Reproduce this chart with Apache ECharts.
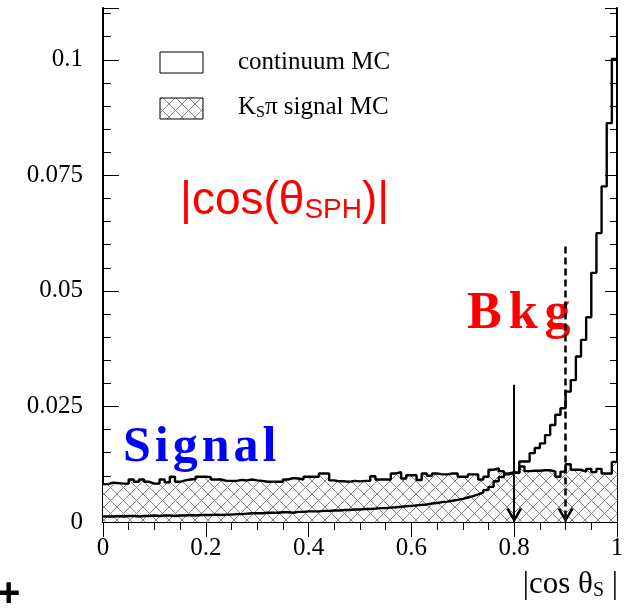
<!DOCTYPE html>
<html>
<head>
<meta charset="utf-8">
<script src="https://cdn.jsdelivr.net/npm/echarts@6/dist/echarts.min.js"></script>
<style>
html, body { margin: 0; padding: 0; background: #fff; }
#main { width: 636px; height: 610px; }
</style>
</head>
<body>
<div id="main"></div>
<script>
// |cos theta_S| distributions, 100 bins of width 0.01 from 0 to 1
var binWidth = 0.01;

var continuumMC = [
  0.0012, 0.0012, 0.0013, 0.0012, 0.0013, 0.0013, 0.0012, 0.0013, 0.0013, 0.0014,
  0.0013, 0.0014, 0.0014, 0.0013, 0.0014, 0.0014, 0.0015, 0.0014, 0.0015, 0.0015,
  0.0015, 0.0016, 0.0015, 0.0016, 0.0016, 0.0017, 0.0017, 0.0018, 0.0019, 0.0019,
  0.0019, 0.0020, 0.0020, 0.0020, 0.0021, 0.0021, 0.0020, 0.0022, 0.0022, 0.0023,
  0.0023, 0.0023, 0.0024, 0.0024, 0.0025, 0.0025, 0.0026, 0.0026, 0.0027, 0.0027,
  0.0028, 0.0028, 0.0029, 0.0030, 0.0030, 0.0031, 0.0032, 0.0033, 0.0034, 0.0035,
  0.0036, 0.0037, 0.0038, 0.0040, 0.0041, 0.0043, 0.0044, 0.0046, 0.0048, 0.0050,
  0.0053, 0.0056, 0.0060, 0.0064, 0.0069, 0.0076, 0.0088, 0.0097, 0.0103, 0.0106,
  0.0107, 0.0131, 0.0131, 0.0149, 0.0160, 0.0170, 0.0188, 0.0210, 0.0232, 0.0246,
  0.0282, 0.0307, 0.0358, 0.0394, 0.0443, 0.0539, 0.0625, 0.0726, 0.0863, 0.1002
];

var signalMC = [
  0.0082, 0.0085, 0.0084, 0.0083, 0.0083, 0.0092, 0.0087, 0.0092, 0.0087, 0.0083,
  0.0083, 0.0092, 0.0086, 0.0098, 0.0087, 0.0090, 0.0092, 0.0093, 0.0098, 0.0098,
  0.0097, 0.0092, 0.0092, 0.0089, 0.0089, 0.0089, 0.0091, 0.0090, 0.0092, 0.0090,
  0.0089, 0.0087, 0.0087, 0.0087, 0.0087, 0.0092, 0.0095, 0.0094, 0.0092, 0.0098,
  0.0098, 0.0098, 0.0105, 0.0105, 0.0090, 0.0088, 0.0088, 0.0087, 0.0089, 0.0088,
  0.0089, 0.0089, 0.0099, 0.0092, 0.0092, 0.0092, 0.0105, 0.0108, 0.0094, 0.0101,
  0.0101, 0.0091, 0.0105, 0.0100, 0.0105, 0.0103, 0.0103, 0.0105, 0.0105, 0.0098,
  0.0098, 0.0103, 0.0103, 0.0092, 0.0098, 0.0113, 0.0116, 0.0110, 0.0105, 0.0108,
  0.0106, 0.0120, 0.0110, 0.0111, 0.0111, 0.0112, 0.0112, 0.0109, 0.0098, 0.0109,
  0.0125, 0.0113, 0.0113, 0.0109, 0.0115, 0.0108, 0.0115, 0.0105, 0.0105, 0.0130
];

// cut positions (arrows) and where their lines start
var cutX = [0.8, 0.9];
var cutTop = [0.0297, 0.0596];

var yMajor = [0, 0.025, 0.05, 0.075, 0.1];
var yMax = 0.1112;

// histogram -> step points at left bin edges, closing at x=1
function toSteps(vals) {
  var pts = vals.map(function (v, i) { return [+(i * binWidth).toFixed(2), v]; });
  pts.push([1, vals[vals.length - 1]]);
  return pts;
}

// cross hatch pattern
var hatch = document.createElement('canvas');
hatch.width = 13; hatch.height = 13;
var hc = hatch.getContext('2d');
hc.fillStyle = '#fbfbfb';
hc.fillRect(0, 0, 13, 13);
hc.strokeStyle = '#858585';
hc.lineWidth = 1;
hc.beginPath();
hc.moveTo(-1, -1); hc.lineTo(14, 14);
hc.moveTo(14, -1); hc.lineTo(-1, 14);
hc.stroke();
var hatchFill = { image: hatch, repeat: 'repeat' };

var serif = '"Liberation Serif", "DejaVu Serif", serif';
var sans = '"Liberation Sans", Arial, sans-serif';
// open arrow head, apex in the middle of the box
var chevron = 'path://M0,10 L5,0 L10,10 L8.5,10.8 L5,3.6 L1.5,10.8 Z M5,-10 L5,-10';

function isMajorY(v) {
  for (var i = 0; i < yMajor.length; i++) if (Math.abs(v - yMajor[i]) < 1e-7) return true;
  return false;
}

function yAxisCfg(pos, interval, len, withLine, withLabel) {
  return {
    type: 'value', position: pos, min: 0, max: yMax, interval: interval,
    axisLine: { show: withLine, lineStyle: { color: '#000', width: 2 } },
    axisTick: { show: true, inside: true, length: len, lineStyle: { color: '#000', width: 1 } },
    splitLine: { show: false },
    axisLabel: {
      show: withLabel, color: '#000', fontFamily: serif, fontSize: 25, margin: 20,
      formatter: function (v) { return isMajorY(v) ? String(+v.toFixed(3)) : ''; }
    }
  };
}

function xAxisCfg(pos, withLabel) {
  return {
    type: 'value', position: pos, min: 0, max: 1, interval: 0.2,
    axisLine: { show: true, lineStyle: { color: '#000', width: 2 } },
    axisTick: { show: true, inside: true, length: 15, lineStyle: { color: '#000', width: 1 } },
    minorTick: { show: true, splitNumber: 4, length: 8, lineStyle: { color: '#000', width: 1 } },
    splitLine: { show: false },
    axisLabel: {
      show: withLabel, color: '#000', fontFamily: serif, fontSize: 25, margin: 14,
      formatter: function (v) { return String(+v.toFixed(1)); }
    }
  };
}

var chart = echarts.init(document.getElementById('main'));

chart.setOption({
  animation: false,
  backgroundColor: '#fff',
  grid: { left: 103, right: 19, top: 8, bottom: 88 },
  xAxis: [xAxisCfg('bottom', true), xAxisCfg('top', false)],
  yAxis: [
    yAxisCfg('left', 0.005, 8, true, true),
    yAxisCfg('left', 0.025, 16, false, false),
    yAxisCfg('right', 0.005, 7, true, false),
    yAxisCfg('right', 0.025, 12, false, false)
  ],
  series: [
    {
      name: 'Ks pi signal MC', type: 'line', step: 'end', symbol: 'none',
      data: toSteps(signalMC), z: 2,
      lineStyle: { color: '#000', width: 2.4 },
      areaStyle: { color: hatchFill, opacity: 1 }
    },
    {
      name: 'continuum MC', type: 'line', step: 'end', symbol: 'none',
      data: toSteps(continuumMC), z: 3,
      lineStyle: { color: '#000', width: 2.4 },
      markLine: {
        silent: true,
        symbol: ['none', chevron],
        symbolSize: [16, 28],
        label: { show: false },
        data: [
          [{ coord: [cutX[0], cutTop[0]], lineStyle: { color: '#000', width: 2, type: 'solid' } }, { coord: [cutX[0], 0] }],
          [{ coord: [cutX[1], cutTop[1]], lineStyle: { color: '#000', width: 2.5, type: [7, 4] } }, { coord: [cutX[1], 0] }]
        ]
      }
    }
  ],
  graphic: [
    { type: 'rect', shape: { x: 160, y: 52, width: 43, height: 21 }, style: { fill: '#fff', stroke: '#000', lineWidth: 1 } },
    { type: 'text', x: 238, y: 62, style: { text: 'continuum MC', fill: '#000', font: '25px ' + serif, verticalAlign: 'middle' } },
    { type: 'rect', shape: { x: 160, y: 98, width: 43, height: 21 }, style: { fill: hatchFill, stroke: '#000', lineWidth: 1 } },
    {
      type: 'text', x: 238, y: 107,
      style: {
        text: '{a|K}{s|S}{a|π signal MC}', verticalAlign: 'middle', fill: '#000',
        rich: {
          a: { fontFamily: serif, fontSize: 25, lineHeight: 28, verticalAlign: 'middle', fill: '#000' },
          s: { fontFamily: serif, fontSize: 16, lineHeight: 10, verticalAlign: 'bottom', fill: '#000' }
        }
      }
    },
    {
      type: 'text', x: 180, y: 201,
      style: {
        text: '{a||cos(θ}{s|SPH}{a|)|}', verticalAlign: 'middle', fill: '#ff0000',
        rich: {
          a: { fontFamily: sans, fontSize: 46, lineHeight: 47, verticalAlign: 'middle', fill: '#ff0000' },
          s: { fontFamily: sans, fontSize: 28, lineHeight: 22, verticalAlign: 'bottom', fill: '#ff0000' }
        }
      }
    },
    {
      type: 'text', x: 467, y: 315,
      style: {
        text: '{p|B}{p|k}{b|g}', verticalAlign: 'middle', fill: '#ff0000',
        rich: {
          p: { fontFamily: serif, fontWeight: 'bold', fontSize: 52, padding: [0, 7, 0, 0], fill: '#ff0000' },
          b: { fontFamily: serif, fontWeight: 'bold', fontSize: 52, fill: '#ff0000' }
        }
      }
    },
    {
      type: 'text', x: 123, y: 448,
      style: {
        text: '{p|S}{p|i}{p|g}{p|n}{p|a}{b|l}', verticalAlign: 'middle', fill: '#0000ff',
        rich: {
          p: { fontFamily: serif, fontWeight: 'bold', fontSize: 50, padding: [0, 4, 0, 0], fill: '#0000ff' },
          b: { fontFamily: serif, fontWeight: 'bold', fontSize: 50, fill: '#0000ff' }
        }
      }
    },
    {
      type: 'text', x: 618, y: 585,
      style: {
        text: '{a||cos θ}{s|S}{a| |}', align: 'right', verticalAlign: 'middle', fill: '#000',
        rich: {
          a: { fontFamily: serif, fontSize: 31, lineHeight: 32, verticalAlign: 'middle', fill: '#000' },
          s: { fontFamily: serif, fontSize: 20, lineHeight: 12, verticalAlign: 'bottom', fill: '#000' }
        }
      }
    },
    { type: 'text', x: -3, y: 595, style: { text: '+', fill: '#000', font: 'bold 40px ' + sans, verticalAlign: 'middle' } }
  ]
});
</script>
</body>
</html>
